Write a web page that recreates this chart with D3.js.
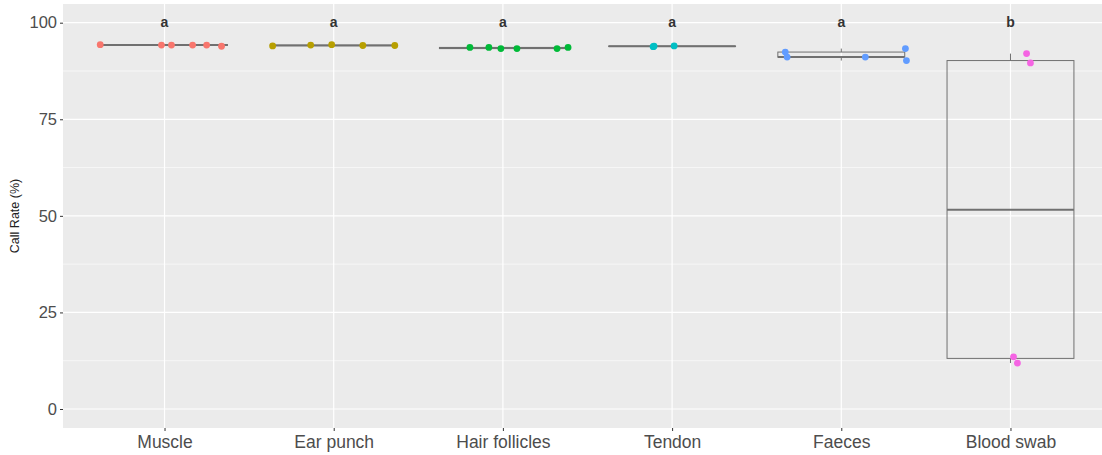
<!DOCTYPE html>
<html>
<head>
<meta charset="utf-8">
<script src="https://cdn.jsdelivr.net/npm/d3@7"></script>
<style>
  body { margin: 0; background: #fff; }
  text { font-family: "Liberation Sans", Arial, sans-serif; }
</style>
</head>
<body>
<svg width="1102" height="455"></svg>
<script>
"use strict";
// sample types and their call rates (%)
var categories = ["Muscle", "Ear punch", "Hair follicles", "Tendon", "Faeces", "Blood swab"];
var letters = ["a", "a", "a", "a", "a", "b"];
var callRates = [
    [94.3, 94.2, 94.2, 94.2, 94.2, 93.9],
    [94.0, 94.2, 94.3, 94.1, 94.1],
    [93.6, 93.6, 93.3, 93.3, 93.3, 93.6],
    [93.8, 93.9, 94.0],
    [92.4, 91.1, 91.1, 93.3, 90.2],
    [92.0, 89.6, 13.5, 11.9]
];
// horizontal jitter of each point, in category units
var jitter = [
    [-0.38, -0.018, 0.041, 0.166, 0.249, 0.337],
    [-0.361, -0.136, -0.012, 0.172, 0.361],
    [-0.195, -0.083, -0.012, 0.083, 0.320, 0.385],
    [-0.112, -0.107, 0.012],
    [-0.331, -0.320, 0.142, 0.379, 0.385],
    [0.095, 0.118, 0.018, 0.041]
];
var yTicks = [0, 25, 50, 75, 100];
var colors = ["#F8766D", "#B79F00", "#00BA38", "#00BFC4", "#619CFF", "#F564E3"];

var svg = d3.select("svg");
var panel = {left: 63, top: 4, right: 1112, bottom: 428};

var x = d3.scaleLinear().domain([0.4, categories.length + 0.6]).range([panel.left, panel.right]);
var y = d3.scaleLinear().domain([0, 100]).range([409, 22.7]);

svg.append("rect")
    .attr("x", panel.left).attr("y", panel.top)
    .attr("width", panel.right - panel.left).attr("height", panel.bottom - panel.top)
    .attr("fill", "#EBEBEB");

// grid
var minor = d3.range(12.5, 100, 25);
svg.append("g").selectAll("line").data(minor).enter().append("line")
    .attr("x1", panel.left).attr("x2", panel.right)
    .attr("y1", function(d) { return y(d); }).attr("y2", function(d) { return y(d); })
    .attr("stroke", "#fff").attr("stroke-width", 0.6);
svg.append("g").selectAll("line").data(yTicks).enter().append("line")
    .attr("x1", panel.left).attr("x2", panel.right)
    .attr("y1", function(d) { return y(d); }).attr("y2", function(d) { return y(d); })
    .attr("stroke", "#fff").attr("stroke-width", 1.2);
svg.append("g").selectAll("line").data(categories).enter().append("line")
    .attr("x1", function(d, i) { return x(i + 1); }).attr("x2", function(d, i) { return x(i + 1); })
    .attr("y1", panel.top).attr("y2", panel.bottom)
    .attr("stroke", "#fff").attr("stroke-width", 1.2);

// axes
var yAxis = svg.append("g")
    .attr("transform", "translate(" + panel.left + ",0)")
    .call(d3.axisLeft(y).tickValues(yTicks).tickSize(3).tickPadding(3));
var xAxis = svg.append("g")
    .attr("transform", "translate(0," + panel.bottom + ")")
    .call(d3.axisBottom(x).tickValues(d3.range(1, categories.length + 1))
        .tickFormat(function(d) { return categories[d - 1]; }).tickSize(3).tickPadding(5));
[yAxis, xAxis].forEach(function(a) {
    a.select(".domain").remove();
    a.selectAll(".tick line").attr("stroke", "#333");
    a.selectAll(".tick text").attr("fill", "#4D4D4D")
        .style("font-family", "'Liberation Sans', Arial, sans-serif");
});
yAxis.selectAll(".tick text").style("font-size", "16.5px");
xAxis.selectAll(".tick text").style("font-size", "17.5px");

svg.append("text")
    .attr("transform", "translate(19," + ((panel.top + panel.bottom) / 2) + ") rotate(-90)")
    .attr("text-anchor", "middle")
    .style("font-size", "12.5px")
    .attr("fill", "#222")
    .text("Call Rate (%)");

// boxplots
var halfW = 0.375;
var stats = callRates.map(function(vals) {
    var s = vals.slice().sort(d3.ascending);
    var q1 = d3.quantile(s, 0.25), med = d3.quantile(s, 0.5), q3 = d3.quantile(s, 0.75);
    var iqr = q3 - q1;
    var lo = d3.min(s.filter(function(v) { return v >= q1 - 1.5 * iqr; }));
    var hi = d3.max(s.filter(function(v) { return v <= q3 + 1.5 * iqr; }));
    return {q1: q1, med: med, q3: q3, lo: lo, hi: hi};
});

var box = svg.append("g").selectAll("g").data(stats).enter().append("g");
var boxColor = "#707070";
box.append("line")
    .attr("x1", function(d, i) { return x(i + 1); }).attr("x2", function(d, i) { return x(i + 1); })
    .attr("y1", function(d) { return y(d.q3); }).attr("y2", function(d) { return y(d.hi); })
    .attr("stroke", boxColor);
box.append("line")
    .attr("x1", function(d, i) { return x(i + 1); }).attr("x2", function(d, i) { return x(i + 1); })
    .attr("y1", function(d) { return y(d.q1); }).attr("y2", function(d) { return y(d.lo); })
    .attr("stroke", boxColor);
box.append("rect")
    .attr("x", function(d, i) { return x(i + 1 - halfW); })
    .attr("width", function() { return x(1 + halfW) - x(1 - halfW); })
    .attr("y", function(d) { return y(d.q3); })
    .attr("height", function(d) { return y(d.q1) - y(d.q3); })
    .attr("fill", "none").attr("stroke", boxColor).attr("stroke-width", 1);
box.append("line")
    .attr("x1", function(d, i) { return x(i + 1 - halfW); })
    .attr("x2", function(d, i) { return x(i + 1 + halfW); })
    .attr("y1", function(d) { return y(d.med); }).attr("y2", function(d) { return y(d.med); })
    .attr("stroke", boxColor).attr("stroke-width", 2);

// points
var points = [];
callRates.forEach(function(vals, i) {
    vals.forEach(function(v, j) {
        points.push({cat: i, value: v, dx: jitter[i][j]});
    });
});
svg.append("g").selectAll("circle").data(points).enter().append("circle")
    .attr("cx", function(d) { return x(d.cat + 1 + d.dx); })
    .attr("cy", function(d) { return y(d.value); })
    .attr("r", 3.4)
    .attr("fill", function(d) { return colors[d.cat]; });

// significance letters
svg.append("g").selectAll("text").data(letters).enter().append("text")
    .attr("x", function(d, i) { return x(i + 1); })
    .attr("y", y(100) + 4)
    .attr("text-anchor", "middle")
    .style("font-size", "14px").style("font-weight", "bold")
    .attr("fill", "#333")
    .text(function(d) { return d; });
</script>
</body>
</html>
